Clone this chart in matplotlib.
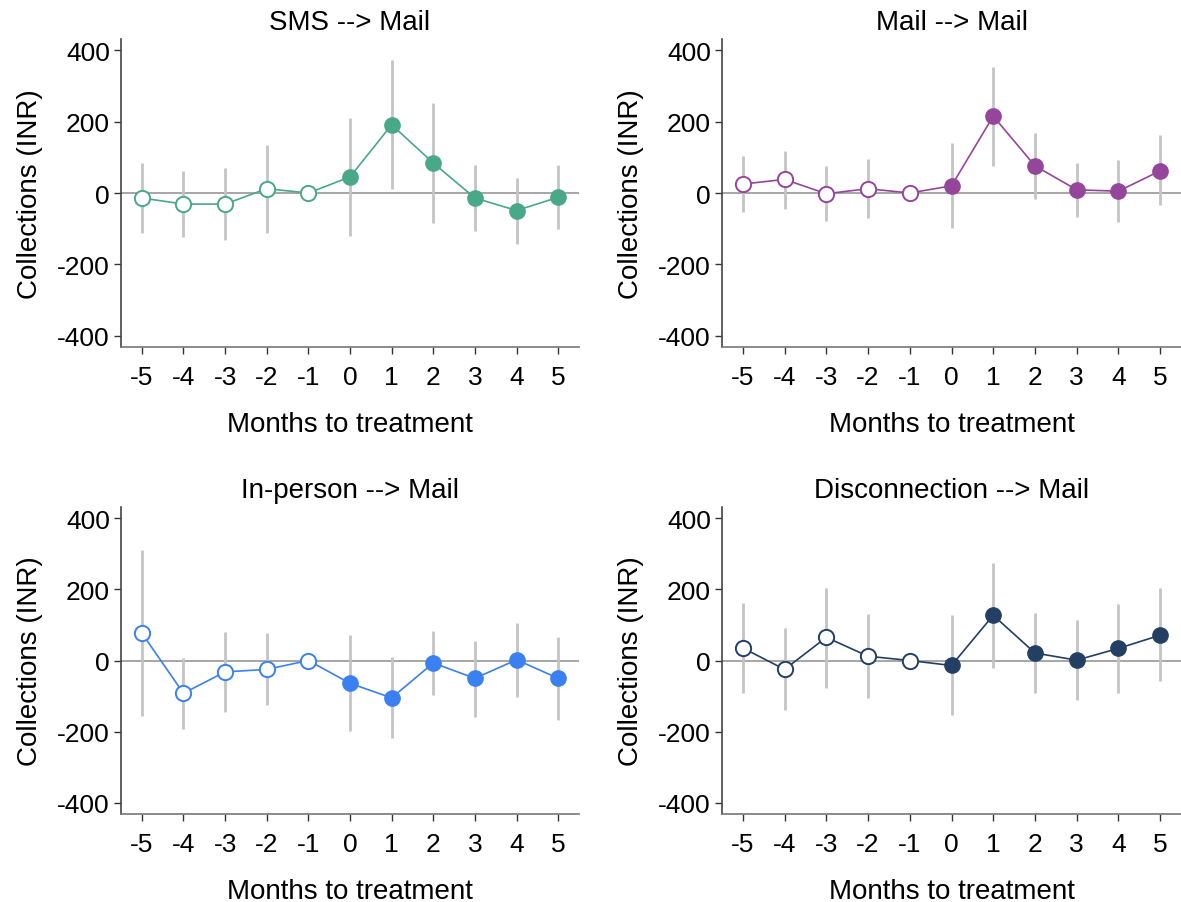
import matplotlib
matplotlib.use("Agg")
import matplotlib.pyplot as plt
import numpy as np

plt.rcParams['font.family'] = ['Liberation Sans', 'DejaVu Sans']

months = [-5, -4, -3, -2, -1, 0, 1, 2, 3, 4, 5]
titles = ["SMS --> Mail", "Mail --> Mail", "In-person --> Mail", "Disconnection --> Mail"]
colors = ["#48a888", "#95469b", "#3b80f0", "#233f63"]

# point estimates
sms_est = [-14, -31, -31, 12, 0, 45, 191, 84, -14, -49, -12]
mail_est = [25, 38, -2, 12, 0, 20, 215, 76, 9, 5, 62]
inperson_est = [77, -92, -32, -25, 0, -64, -105, -7, -50, 2, -50]
disc_est = [35, -25, 65, 12, 0, -14, 127, 21, 1, 34, 71]

# 95% CI bounds (none for the reference month -1)
sms_lo = [-112, -124, -131, -112, None, -119, 11, -84, -105, -143, -100]
sms_hi = [85, 62, 70, 135, None, 210, 372, 251, 78, 43, 77]
mail_lo = [-54, -45, -77, -71, None, -99, 76, -17, -66, -80, -34]
mail_hi = [104, 118, 75, 95, None, 139, 353, 167, 85, 91, 162]
inperson_lo = [-156, -193, -144, -126, None, -198, -217, -98, -158, -103, -168]
inperson_hi = [311, 7, 81, 76, None, 71, 9, 82, 56, 105, 67]
disc_lo = [-91, -139, -76, -105, None, -154, -22, -91, -111, -91, -58]
disc_hi = [161, 91, 203, 130, None, 127, 274, 132, 115, 160, 203]

estimates = [sms_est, mail_est, inperson_est, disc_est]
lows = [sms_lo, mail_lo, inperson_lo, disc_lo]
highs = [sms_hi, mail_hi, inperson_hi, disc_hi]

W, H = 1181, 903
fig = plt.figure(figsize=(W / 100, H / 100), dpi=100)

# axes boxes in pixels: left, top, right, bottom
boxes = [(121, 40, 579, 348), (722, 40, 1181, 348),
         (121, 508, 579, 815), (722, 508, 1181, 815)]
ylabel_x = [30, 631, 30, 631]

tick_fs = 19
lab_fs = 20
for i in range(4):
    l, t, r, b = boxes[i]
    aw, ah = r - l, b - t
    ax = fig.add_axes([l / W, 1 - b / H, aw / W, ah / H])
    x = np.array(months)
    est = np.array(estimates[i], dtype=float)
    c = colors[i]

    ax.axhline(0, color="#a6a6a6", lw=1.4, zorder=1)
    for xi, lo, hi in zip(months, lows[i], highs[i]):
        if lo is None:
            continue
        ax.plot([xi, xi], [lo, hi], color="#c4c4c4", lw=2.0, zorder=2,
                solid_capstyle="butt")
    ax.plot(x, est, color=c, lw=1.2, zorder=3)
    pre = x < 0
    ax.plot(x[pre], est[pre], 'o', ms=11, mfc="white", mec=c, mew=1.4, zorder=4)
    ax.plot(x[~pre], est[~pre], 'o', ms=11, mfc=c, mec=c, mew=1.0, zorder=4)

    ax.set_xlim(-5.5, 5.5)
    ax.set_ylim(-431, 431)
    ax.set_xticks(months)
    ax.set_xticklabels([str(m) for m in months])
    ax.set_yticks([-400, -200, 0, 200, 400])
    ax.set_yticklabels(["-400", "-200", "0", "200", "400"])
    ax.tick_params(axis="both", labelsize=tick_fs, length=5, width=1,
                   color="#333333", direction="out")
    ax.tick_params(axis="x", pad=8)
    ax.tick_params(axis="y", pad=3)
    for s in ["top", "right"]:
        ax.spines[s].set_visible(False)
    ax.spines["left"].set_color("#444444")
    ax.spines["bottom"].set_color("#777777")
    ax.spines["left"].set_linewidth(1.2)
    ax.spines["bottom"].set_linewidth(1.2)

    # title, axis labels placed by pixel offsets from the axes box
    ax.text(0.5, 1 + 10 / ah, titles[i], transform=ax.transAxes,
            ha="center", va="baseline", fontsize=lab_fs)
    ax.text(0.5, -84 / ah, "Months to treatment", transform=ax.transAxes,
            ha="center", va="baseline", fontsize=lab_fs)
    ax.text((ylabel_x[i] - l) / aw, 0.5, "Collections (INR)", transform=ax.transAxes,
            ha="center", va="center", rotation=90, fontsize=lab_fs)

fig.savefig("out.png", dpi=100, facecolor="white")
